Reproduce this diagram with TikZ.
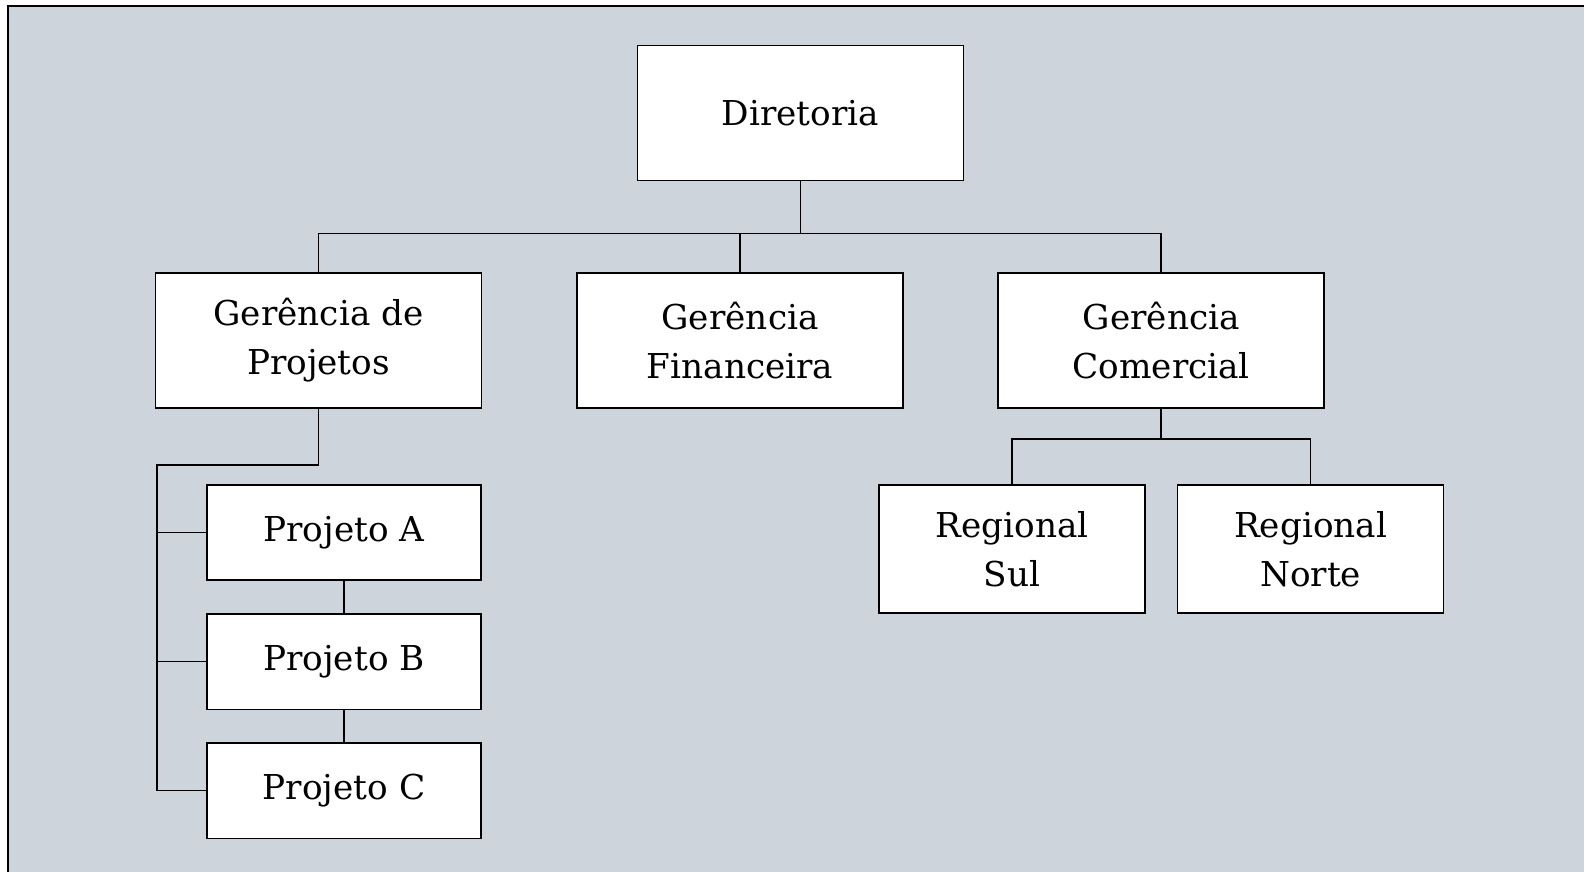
\documentclass[tikz,border=0pt]{standalone}
\usepackage{fontspec}
\setmainfont{DejaVu Serif}
\usetikzlibrary{calc, positioning}
\definecolor{panelgray}{RGB}{206,212,219}

\begin{document}
\begin{tikzpicture}[node distance=0.8cm, every node/.style={font=\fontsize{19.5pt}{28pt}\selectfont}]
  \tikzset{box/.style={draw, fill=white, line width=0.9pt, align=center, inner sep=0pt},
           unit/.style={box, minimum width=6.52cm, minimum height=2.7cm},
           regbox/.style={box, minimum width=5.32cm, minimum height=2.56cm},
           projbox/.style={box, minimum width=5.48cm, minimum height=1.91cm},
           link/.style={line width=0.85pt}}
  \useasboundingbox (0,0) rectangle (31.68,-17.44);
  \fill[white] (0,0) rectangle (31.68,-17.44);
  \fill[panelgray] (0.16,-0.12) rectangle (31.68,-17.44);
  \draw[line width=1.2pt] (0.16,-17.6) |- (31.9,-0.12);

  \node[unit] (dir) at (16.01,-2.26) {Diretoria};
  \node[unit] (gproj) at (6.37,-6.81) {Gerência de\\Projetos};
  \node[unit, right=1.88cm of gproj] (gfin) {Gerência\\Financeira};
  \node[unit, right=1.87cm of gfin] (gcom) {Gerência\\Comercial};

  \node[projbox] (pa) at (6.88,-10.65) {Projeto A};
  \node[projbox, below=0.64cm of pa] (pb) {Projeto B};
  \node[projbox, below=0.64cm of pb] (pc) {Projeto C};

  \node[regbox] (sul) at (20.24,-10.98) {Regional\\Sul};
  \node[regbox, right=0.62cm of sul] (norte) {Regional\\Norte};

  % top level
  \coordinate (bus) at ($(dir.south)+(0,-1.04)$);
  \draw[link] (dir.south) -- (bus);
  \draw[link] (gproj.north) |- (bus) -| (gcom.north);
  \draw[link] (gfin.north) -- (gfin.north |- bus);

  % projetos
  \coordinate (rail) at (3.14,-9.30);
  \draw[link] (gproj.south) |- (rail) -- (rail |- pc.west) -- (pc.west);
  \draw[link] (rail |- pa.west) -- (pa.west);
  \draw[link] (rail |- pb.west) -- (pb.west);
  \draw[link] (pa) -- (pb);
  \draw[link] (pb) -- (pc);

  % regionais
  \coordinate (cbus) at ($(gcom.south)+(0,-0.6)$);
  \draw[link] (gcom.south) -- (cbus);
  \draw[link] (sul.north) |- (cbus) -| (norte.north);
\end{tikzpicture}
\end{document}
